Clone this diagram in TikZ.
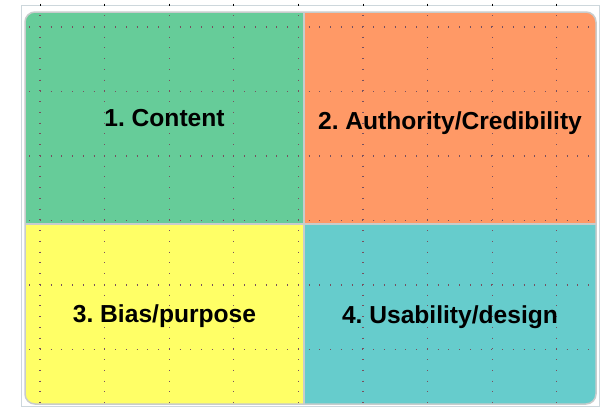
\documentclass[tikz,border=0pt]{standalone}
\usepackage{fontspec}
\setmainfont{Liberation Sans}
\definecolor{qgreen}{RGB}{102,204,153}
\definecolor{qorange}{RGB}{255,153,102}
\definecolor{qyellow}{RGB}{255,255,102}
\definecolor{qteal}{RGB}{102,204,204}
\definecolor{gridc}{RGB}{120,80,95}
\definecolor{edgec}{RGB}{200,204,204}
\definecolor{framec}{RGB}{205,215,220}
\begin{document}
\frenchspacing
\begin{tikzpicture}[x=1pt,y=-1pt,
  lbl/.style={font=\bfseries\fontsize{24.6}{28}\selectfont, text height=17.8pt, text depth=0pt, inner sep=0pt, text=black},
  gridline/.style={draw=gridc, line width=1.1pt, dash pattern=on 1.1pt off 9.65pt},
  divider/.style={draw=edgec, line width=2pt},
  border/.style={draw=edgec, line width=1.5pt, rounded corners=10pt}]
\useasboundingbox[fill=white] (0,0) rectangle (600,407);
% outer selection frame
\draw[framec, line width=0.8pt] (21,5) rectangle (599,406);
\foreach \gx in {40,104.6,169.2,233.8,298.4,363,427.6,492.2,556.8}
  \draw[black, line width=0.8pt] (\gx,3.5) -- (\gx,6);
% quadrants
\begin{scope}
  \clip[rounded corners=10pt] (25,12) rectangle (596,404);
  \fill[qgreen] (25,12) rectangle (304,224);
  \fill[qorange] (304,12) rectangle (596,224);
  \fill[qyellow] (25,224) rectangle (304,404);
  \fill[qteal] (304,224) rectangle (596,404);
  \foreach \gx in {40,104.6,169.2,233.8,298.4,363,427.6,492.2,556.8}
    \draw[gridline, dash phase=-3pt] (\gx,12) -- (\gx,404);
  \foreach \gy in {27,91.5,156,220.5,285,349.5}
    \draw[gridline, dash phase=-4pt] (25,\gy) -- (596,\gy);
\end{scope}
\draw[divider] (304,12) -- (304,404);
\draw[divider] (25,224) -- (596,224);
\draw[border] (25,12) rectangle (596,404);
% labels
\node[lbl] (c1) at (164.5,118) {1. Content};
\node[lbl] (c2) at (450,121) {2. Authority/Credibility};
\node[lbl] (c3) at (164.5,314) {3. Bias/purpose};
\node[lbl] (c4) at (450,315) {4. Usability/design};
\end{tikzpicture}
\end{document}
